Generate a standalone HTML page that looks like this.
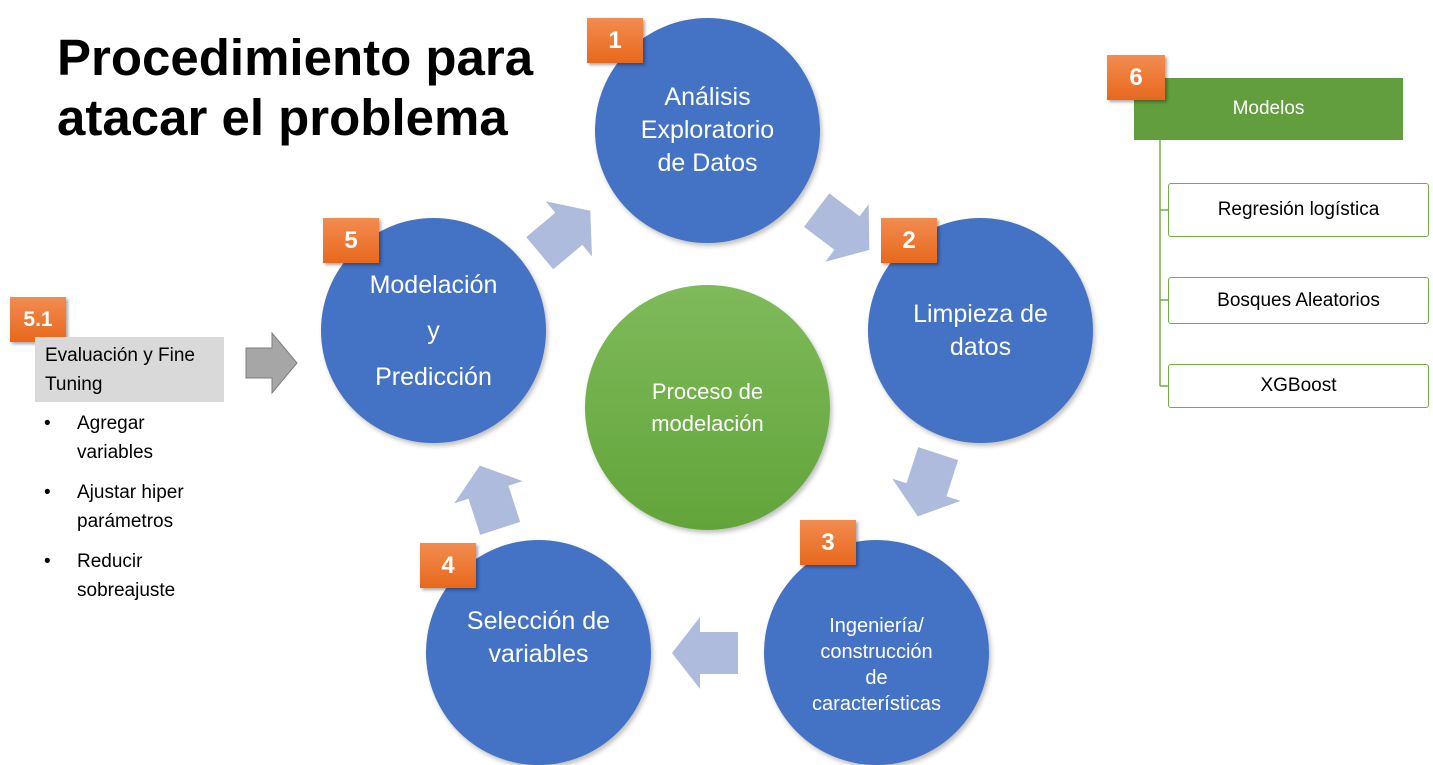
<!DOCTYPE html>
<html><head><meta charset="utf-8"><style>
body{margin:0;width:1433px;height:764px;overflow:hidden;background:#fff;font-family:"Liberation Sans",sans-serif;position:relative}
.a{position:absolute}
.c{position:absolute;border-radius:50%;background:#4472c4;color:#fff;display:flex;align-items:center;justify-content:center;text-align:center;box-shadow:2px 3px 5px rgba(0,0,0,.25)}
.b{position:absolute;width:56px;height:45px;background:linear-gradient(#f28c50,#e8681c);color:#fff;font-weight:bold;font-size:24px;display:flex;align-items:center;justify-content:center;box-shadow:2px 2px 3px rgba(0,0,0,.35)}
.m{position:absolute;left:1168px;width:259px;border:1.5px solid #70ad47;border-radius:3px;background:#fff;display:flex;align-items:center;justify-content:center;font-size:19px;color:#000}
.bl{position:absolute;left:44px;font-size:19px;line-height:29px}
.bl span{position:absolute;left:33px;white-space:nowrap}
</style></head><body>
<div class="a" style="left:57px;top:28px;font-size:51px;font-weight:bold;line-height:60px">Procedimiento para<br>atacar el problema</div>

<svg class="a" style="left:0;top:0" width="1433" height="764">
<defs><polygon id="ar" points="-33,-21 5,-21 5,-36 33,0 5,36 5,21 -33,21" fill="#aebbdd"/></defs>
<use href="#ar" transform="translate(565,232) rotate(-40)"/>
<use href="#ar" transform="translate(843,230) rotate(37)"/>
<use href="#ar" transform="translate(928,485) rotate(108)"/>
<use href="#ar" transform="translate(705,653) rotate(180)"/>
<use href="#ar" transform="translate(490,497) rotate(-108)"/>
<polygon points="246,348 272,348 272,333 297,363 272,393 272,378 246,378" fill="#a6a6a6" stroke="#7f7f7f" stroke-width="1"/>
<line x1="1160" y1="140" x2="1160" y2="386" stroke="#70ad47" stroke-width="1.5"/>
<line x1="1160" y1="210" x2="1168" y2="210" stroke="#70ad47" stroke-width="1.5"/>
<line x1="1160" y1="300" x2="1168" y2="300" stroke="#70ad47" stroke-width="1.5"/>
<line x1="1160" y1="386" x2="1168" y2="386" stroke="#70ad47" stroke-width="1.5"/>
</svg>

<div class="c" style="left:595px;top:18px;width:225px;height:225px;font-size:25px;line-height:33px">Análisis<br>Exploratorio<br>de Datos</div>
<div class="c" style="left:868px;top:218px;width:225px;height:225px;font-size:25px;line-height:33px">Limpieza de<br>datos</div>
<div class="c" style="left:764px;top:540px;width:225px;height:225px;font-size:20px;line-height:26px;padding-top:25px;box-sizing:border-box">Ingeniería/<br>construcción<br>de<br>características</div>
<div class="c" style="left:426px;top:540px;width:225px;height:225px;font-size:25px;line-height:33px;padding-bottom:30px;box-sizing:border-box">Selección de<br>variables</div>
<div class="c" style="left:321px;top:218px;width:225px;height:225px;font-size:25px;line-height:46px">Modelación<br>y<br>Predicción</div>
<div class="c" style="left:585px;top:285px;width:245px;height:245px;background:linear-gradient(#7fba5a,#62a43a);font-size:22px;line-height:32px">Proceso de<br>modelación</div>

<div class="b" style="left:587px;top:18px">1</div>
<div class="b" style="left:881px;top:218px">2</div>
<div class="b" style="left:800px;top:520px">3</div>
<div class="b" style="left:420px;top:543px">4</div>
<div class="b" style="left:323px;top:218px">5</div>
<div class="b" style="left:10px;top:297px;font-size:21px">5.1</div>

<div class="a" style="left:1134px;top:78px;width:269px;height:62px;background:#629e3e;color:#fff;font-size:19px;display:flex;align-items:center;justify-content:center">Modelos</div>
<div class="b" style="left:1107px;top:55px;width:58px">6</div>
<div class="m" style="top:183px;height:52px">Regresión logística</div>
<div class="m" style="top:277px;height:45px">Bosques Aleatorios</div>
<div class="m" style="top:364px;height:42px">XGBoost</div>

<div class="a" style="left:35px;top:337px;width:189px;height:65px;background:#d9d9d9"></div>
<div class="a" style="left:45px;top:341px;font-size:19px;line-height:29px">Evaluación y Fine<br>Tuning</div>
<div class="bl" style="top:409px">•<span>Agregar<br>variables</span></div>
<div class="bl" style="top:478px">•<span>Ajustar hiper<br>parámetros</span></div>
<div class="bl" style="top:547px">•<span>Reducir<br>sobreajuste</span></div>
</body></html>
